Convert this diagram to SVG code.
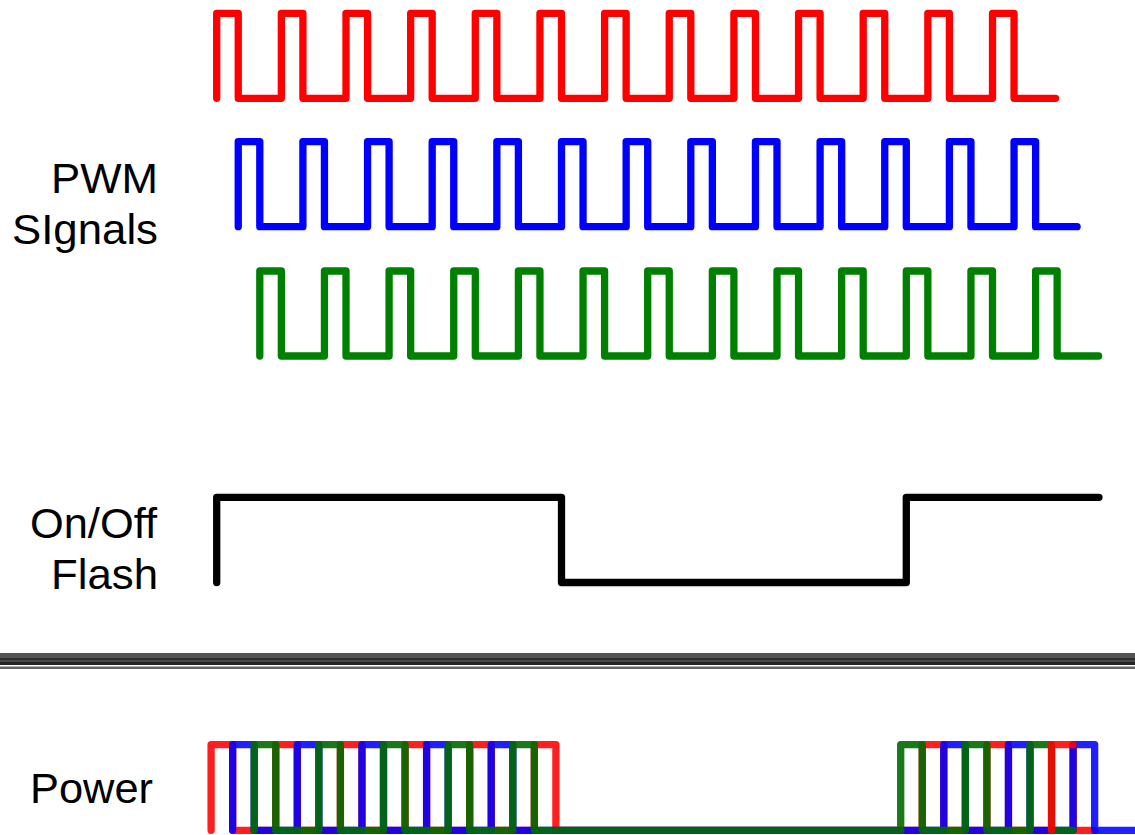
<svg xmlns="http://www.w3.org/2000/svg" xmlns:xlink="http://www.w3.org/1999/xlink" width="1135" height="835" viewBox="0 0 1135 835">
  <style>
    .lbl { font-family: "Liberation Sans", Arial, sans-serif; font-size: 42px; fill: #000; }
    .wave { fill: none; stroke-width: 7.3; stroke-linejoin: round; stroke-linecap: round; }
    .red { stroke: #ff0000; }
    .blue { stroke: #0000ff; }
    .green { stroke: #008000; }
    .pred { stroke: #ff0000; stroke-opacity: 0.88; }
    .pblue { stroke: #0000ff; stroke-opacity: 0.88; }
    .pgreen { stroke: #006a00; stroke-opacity: 0.9; }
    .flash { stroke: #000; }
  </style>
  <defs>
    <path id="train" d="M0 85 v-85 h21.55 v85 h43.1 v-85 h21.55 v85 h43.1 v-85 h21.55 v85 h43.1 v-85 h21.55 v85 h43.1 v-85 h21.55 v85 h43.1 v-85 h21.55 v85 h43.1 v-85 h21.55 v85 h43.1 v-85 h21.55 v85 h43.1 v-85 h21.55 v85 h43.1 v-85 h21.55 v85 h43.1 v-85 h21.55 v85 h43.1 v-85 h21.55 v85 h43.1 v-85 h21.55 v85 h41.5"/>
  </defs>

  <g id="label-pwm">
    <text class="lbl" x="158" y="193" text-anchor="end" textLength="107" lengthAdjust="spacingAndGlyphs">PWM</text>
    <text class="lbl" x="158" y="244" text-anchor="end" textLength="146" lengthAdjust="spacingAndGlyphs">SIgnals</text>
  </g>
  <g id="pwm-red">
    <use xlink:href="#train" href="#train" class="wave red" transform="translate(216.7,13.3)"/>
  </g>
  <g id="pwm-blue">
    <use xlink:href="#train" href="#train" class="wave blue" transform="translate(238.25,141.7)"/>
  </g>
  <g id="pwm-green">
    <use xlink:href="#train" href="#train" class="wave green" transform="translate(259.8,271)"/>
  </g>

  <g id="label-flash">
    <text class="lbl" x="157" y="538" text-anchor="end" textLength="127" lengthAdjust="spacingAndGlyphs">On/Off</text>
    <text class="lbl" x="158" y="589" text-anchor="end" textLength="107" lengthAdjust="spacingAndGlyphs">Flash</text>
  </g>
  <g id="flash-signal">
    <path class="wave flash" d="M216.7 582.5 V497.3 H561.5 V582.5 H906.3 V497.3 H1099"/>
  </g>

  <g id="separator">
    <rect x="0" y="653" width="1135" height="5" fill="#555"/>
    <rect x="0" y="658" width="1135" height="2" fill="#2e2e2e"/>
    <rect x="0" y="660" width="1135" height="2" fill="#484848"/>
    <rect x="0" y="662" width="1135" height="3" fill="#242424"/>
    <rect x="0" y="666.5" width="1135" height="2.5" fill="#666"/>
  </g>

  <g id="label-power">
    <text class="lbl" x="30" y="803" font-size="43" textLength="123" lengthAdjust="spacingAndGlyphs">Power</text>
  </g>
  <g id="power-signal">
    <path class="wave pred" d="M211.1 830.3 V744.7 H232.65 V830.3 H275.75 V744.7 H297.3 V830.3 H340.4 V744.7 H361.95 V830.3 H405.05 V744.7 H426.6 V830.3 H469.7 V744.7 H491.25 V830.3 H534.35 V744.7 H555.9 V830.3 H922.25 V744.7 H943.8 V830.3 H986.9 V744.7 H1008.45 V830.3 H1051.55 M1073.1 744.7 V830.3 H1094.65"/>
    <path class="wave pblue" d="M232.65 830.3 V744.7 H254.2 V830.3 H297.3 V744.7 H318.85 V830.3 H361.95 V744.7 H383.5 V830.3 H426.6 V744.7 H448.15 V830.3 H491.25 V744.7 H512.8 V830.3 H943.8 V744.7 H965.35 V830.3 H1008.45 V744.7 H1030 V830.3 H1073.1 V744.7 H1094.65 V830.3 H1140"/>
    <path class="wave pgreen" d="M254.2 830.3 V744.7 H275.75 V830.3 H318.85 V744.7 H340.4 V830.3 H383.5 V744.7 H405.05 V830.3 H448.15 V744.7 H469.7 V830.3 H512.8 V744.7 H534.35 V830.3 H900.7 V744.7 H922.25 V830.3 H965.35 V744.7 H986.9 V830.3 H1030 V744.7 H1051.55 V830.3 H1073.1"/>
    <path class="wave pred" d="M1051.55 830.3 V744.7 H1073.1"/>
  </g>
</svg>
